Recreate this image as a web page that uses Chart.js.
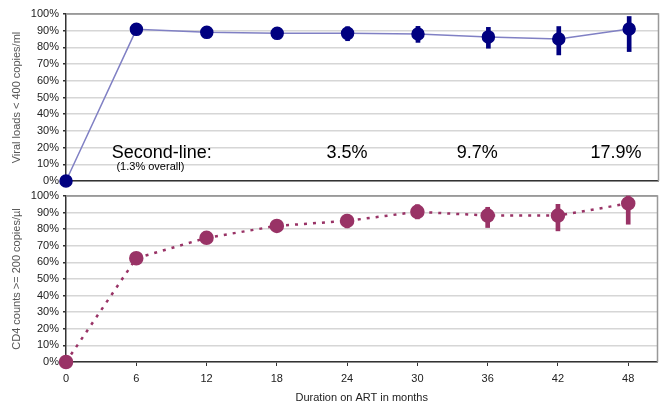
<!DOCTYPE html>
<html>
<head>
<meta charset="utf-8">
<script src="https://cdn.jsdelivr.net/npm/chart.js@4.4.1/dist/chart.umd.min.js"></script>
<style>
    body { margin: 0; background: #fff; width: 666px; height: 406px; position: relative; overflow: hidden; }
    .box { position: absolute; left: 0; width: 666px; }
</style>
</head>
<body>
<div class="box" style="top:0;height:192px"><canvas id="viralChart"></canvas></div>
<div class="box" style="top:182px;height:224px"><canvas id="cd4Chart"></canvas></div>
<script>
// months on ART
const months = [0, 6, 12, 18, 24, 30, 36, 42, 48];
const yTicks = [0, 10, 20, 30, 40, 50, 60, 70, 80, 90, 100];

// viral load < 400 copies/ml (%)
const viralPct = [0, 90.8, 89, 88.4, 88.4, 88, 86.3, 85, 91];
const viralLow = [null, null, null, null, 84, 83, 79.5, 75.5, 77.5];
const viralHigh = [null, null, null, null, 92.4, 92.6, 92, 92.5, 98.5];

// CD4 >= 200 (%)
const cd4Pct = [0, 62.5, 74.8, 82, 85, 90.5, 88.2, 88.2, 95.5];
const cd4Low = [null, null, null, null, 80.8, 86.2, 81, 79, 83];
const cd4High = [null, null, null, null, 89, 94.8, 93.2, 95, 100];

// second-line notes in the top panel
const noteLabels = ["Second-line:", "3.5%", "9.7%", "17.9%"];
const noteMonths = [3.9, 22.2, 33.3, 44.7];
const noteLevel = 17;
const subNote = "(1.3% overall)";
const subNoteMonth = 4.3;
const subNoteLevel = 8.5;

const FONT = "'Liberation Sans', Arial, sans-serif";

function errorBars(low, high) {
    const out = [];
    months.forEach((m, i) => {
        if (low[i] !== null) out.push({ x: m, y: [low[i], high[i]] });
    });
    return out;
}

const frame = {
    id: "frame",
    beforeDatasetsDraw(chart) {
        const { ctx, chartArea: a } = chart;
        ctx.save();
        ctx.strokeStyle = "#999";
        ctx.lineWidth = 1.5;
        ctx.beginPath();
        ctx.moveTo(a.left, a.top);
        ctx.lineTo(a.right, a.top);
        ctx.lineTo(a.right, a.bottom);
        ctx.stroke();
        ctx.restore();
    }
};

const notes = {
    id: "notes",
    afterDatasetsDraw(chart) {
        if (chart.canvas.id !== "viralChart") return;
        const { ctx, scales } = chart;
        ctx.save();
        ctx.fillStyle = "#000";
        ctx.textBaseline = "middle";
        ctx.textAlign = "left";
        ctx.font = "18px " + FONT;
        noteLabels.forEach((t, i) => {
            ctx.fillText(t, scales.x.getPixelForValue(noteMonths[i]), scales.y.getPixelForValue(noteLevel));
        });
        ctx.font = "11px " + FONT;
        ctx.fillText(subNote, scales.x.getPixelForValue(subNoteMonth), scales.y.getPixelForValue(subNoteLevel));
        ctx.restore();
    }
};

function makeOptions(yTitle, showX) {
    return {
        responsive: true,
        maintainAspectRatio: false,
        animation: false,
        layout: { padding: { left: 0, right: 7, top: 14, bottom: showX ? 1 : 0 } },
        plugins: { legend: { display: false }, tooltip: { enabled: false } },
        scales: {
            x: {
                type: "linear",
                min: 0,
                max: 50.5,
                offset: false,
                afterBuildTicks: (s) => { s.ticks = months.map(v => ({ value: v })); },
                afterFit: (s) => { s.height = showX ? 43 : 11; },
                grid: { offset: false, drawOnChartArea: false, drawTicks: showX, tickLength: 4, color: "#333" },
                border: { color: "#333", width: 1.5 },
                ticks: { display: showX, color: "#222", font: { family: FONT, size: 11 }, padding: 6, maxRotation: 0, autoSkip: false },
                title: { display: showX, text: "Duration on ART in months", color: "#222", font: { family: FONT, size: 11 }, padding: 0 }
            },
            y: {
                min: 0,
                max: 100,
                afterBuildTicks: (s) => { s.ticks = yTicks.map(v => ({ value: v })); },
                afterFit: (s) => { s.width = 66; },
                grid: {
                    color: (c) => c.tick && c.tick.value === 100 ? "#999" : "#d6d6d6",
                    lineWidth: 1.5,
                    tickLength: 3,
                    tickColor: "#333"
                },
                border: { color: "#333", width: 1.5 },
                ticks: { color: "#222", font: { family: FONT, size: 11 }, padding: 4, autoSkip: false, callback: (v) => v + "%" },
                title: { display: true, text: yTitle, color: "#555", font: { family: FONT, size: 11 }, padding: { top: 10, bottom: 0 } }
            }
        }
    };
}

new Chart(document.getElementById("viralChart"), {
    type: "line",
    data: {
        datasets: [
            {
                type: "line",
                data: months.map((m, i) => ({ x: m, y: viralPct[i] })),
                borderColor: "#8080c4",
                borderWidth: 1.5,
                pointRadius: 6,
                pointBackgroundColor: "#000080",
                pointBorderColor: "#000080",
                clip: false,
                order: 1
            },
            {
                type: "bar",
                data: errorBars(viralLow, viralHigh),
                backgroundColor: "#000080",
                barThickness: 4,
                clip: false,
                order: 2
            }
        ]
    },
    options: makeOptions("Viral loads < 400 copies/ml", false),
    plugins: [frame, notes]
});

new Chart(document.getElementById("cd4Chart"), {
    type: "line",
    data: {
        datasets: [
            {
                type: "line",
                data: months.map((m, i) => ({ x: m, y: cd4Pct[i] })),
                borderColor: "#993366",
                borderWidth: 2.5,
                borderDash: [3, 6],
                pointRadius: 6,
                pointBackgroundColor: "#993366",
                pointBorderColor: "#993366",
                clip: false,
                order: 1
            },
            {
                type: "bar",
                data: errorBars(cd4Low, cd4High),
                backgroundColor: "#993366",
                barThickness: 4,
                clip: false,
                order: 2
            }
        ]
    },
    options: makeOptions("CD4 counts >= 200 copies/\u00b5l", true),
    plugins: [frame]
});
</script>
</body>
</html>
